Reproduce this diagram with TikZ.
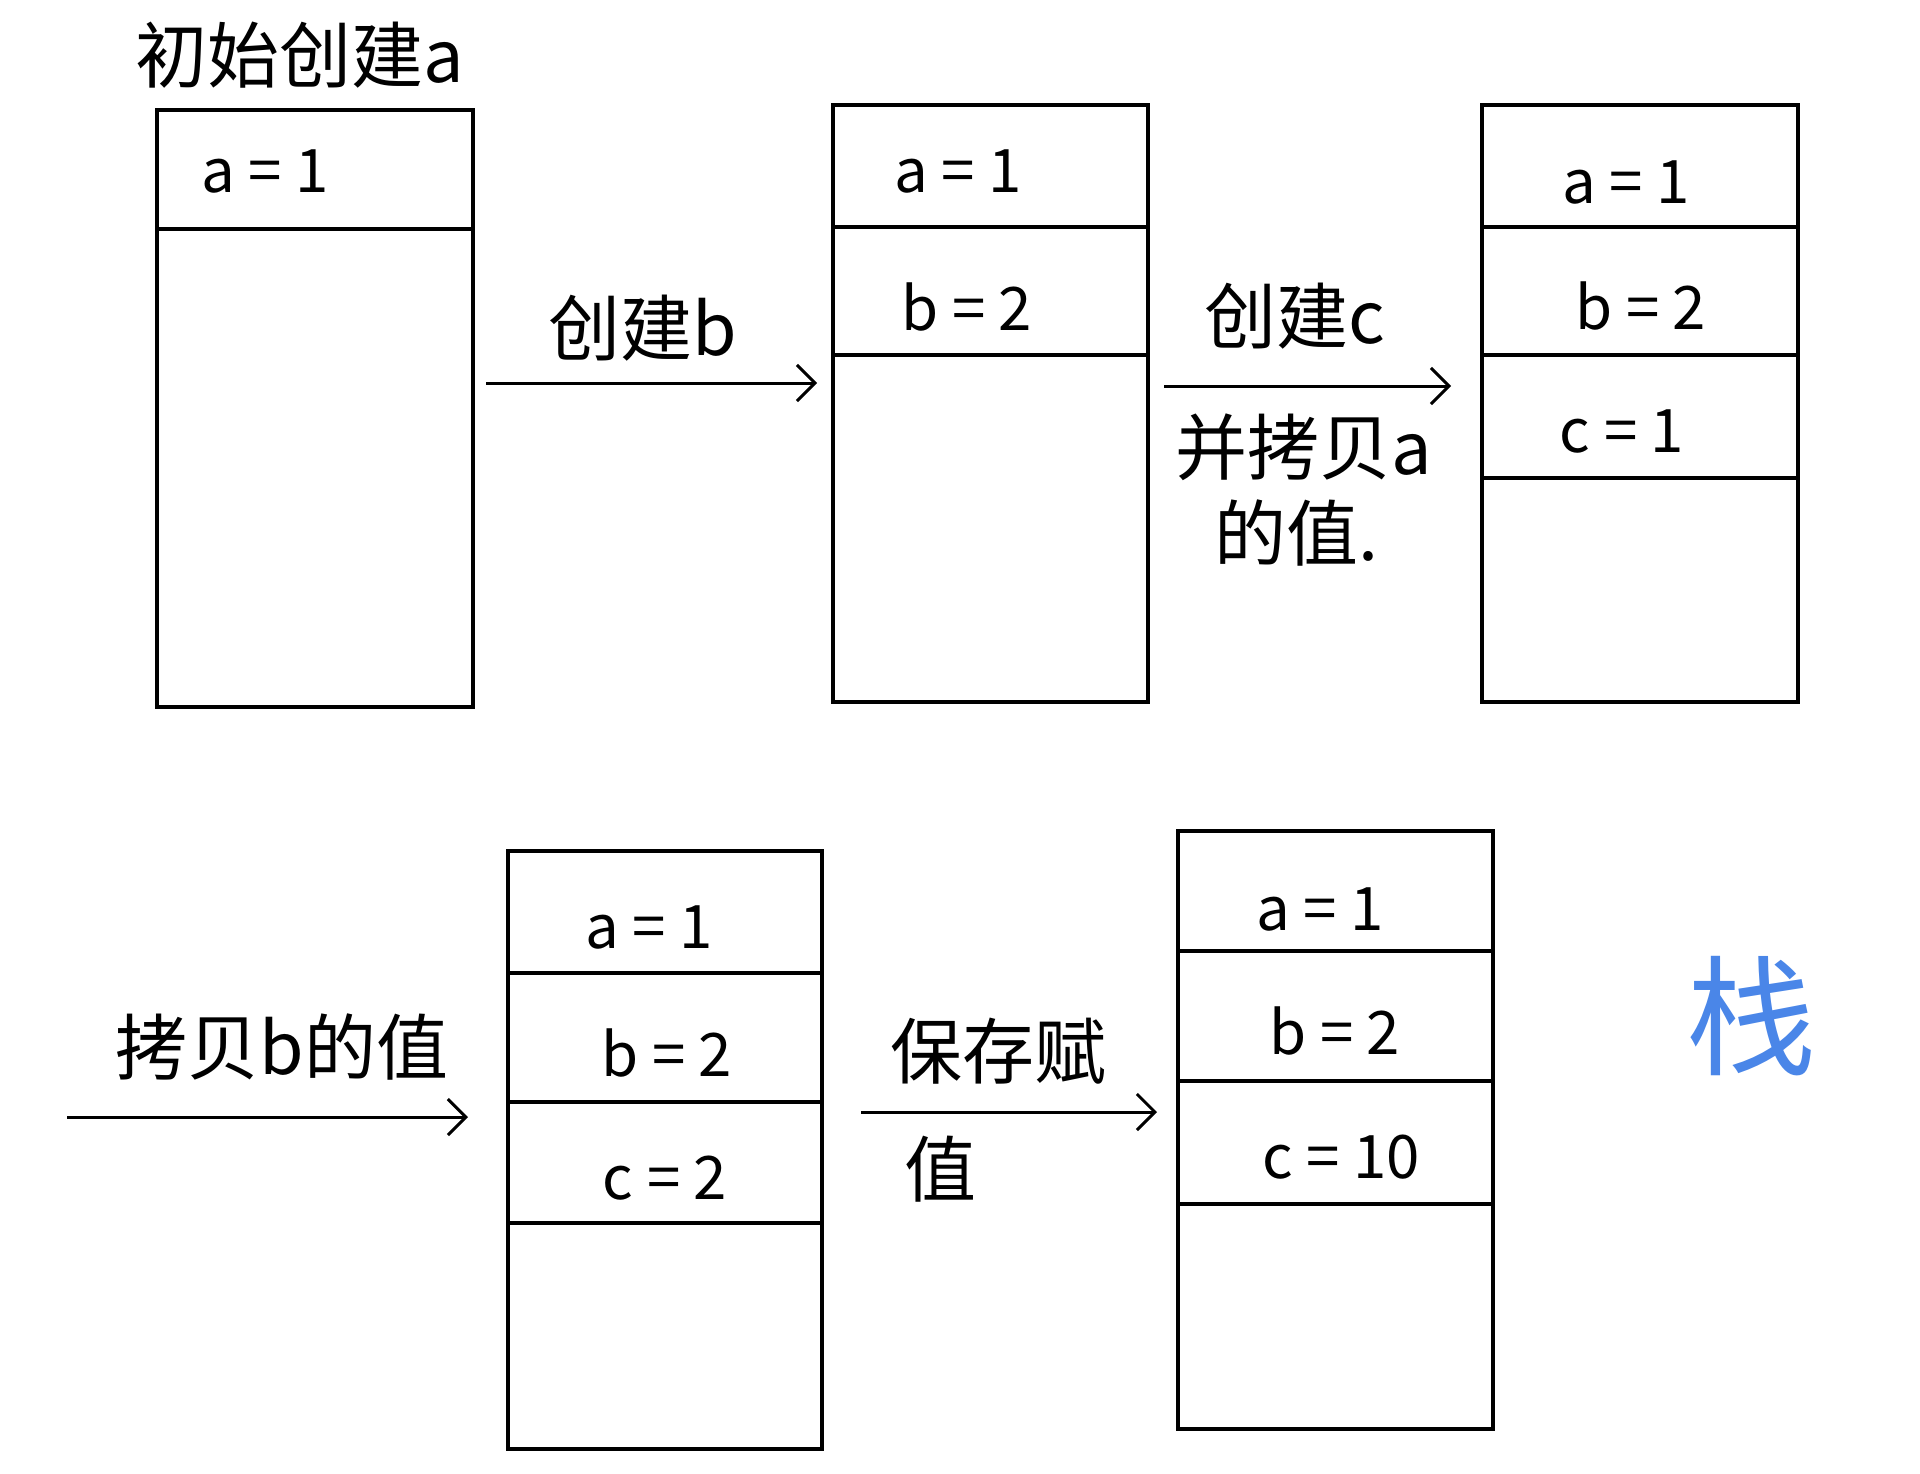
\documentclass[tikz,border=0pt]{standalone}
\usepackage{fontspec}
\setmainfont{Noto Sans CJK SC}
\usetikzlibrary{arrows.meta}
\definecolor{stackblue}{HTML}{4A86E8}
\begin{document}
\begin{tikzpicture}[x=1pt,y=-1pt,
  frame/.style={draw=black,line width=3.5pt,anchor=north west,inner sep=0pt},
  sep/.style={draw=black,line width=3.5pt},
  cell/.style={font=\fontsize{60}{66}\selectfont},
  lbl/.style={font=\fontsize{72}{80}\selectfont},
  arr/.style={draw=black,line width=3pt,-{Straight Barb[length=18pt,width=36pt,line width=3pt]}}]
\useasboundingbox (0,0) rectangle (1920,1473);
% box 1
\node[frame,minimum width=316pt,minimum height=597pt] (b1) at (155,108) {};
\draw[sep] (155,229) -- (471,229);
\node[cell] (b1a) at (265,171) {a = 1};
% box 2
\node[frame,minimum width=315pt,minimum height=597pt] (b2) at (831,103) {};
\draw[sep] (831,227) -- (1146,227);
\draw[sep] (831,355) -- (1146,355);
\node[cell] (b2a) at (958,171) {a = 1};
\node[cell] (b2b) at (967,307) {b = 2};
% box 3
\node[frame,minimum width=316pt,minimum height=597pt] (b3) at (1480,103) {};
\draw[sep] (1480,227) -- (1796,227);
\draw[sep] (1480,355) -- (1796,355);
\draw[sep] (1480,478) -- (1796,478);
\node[cell] (b3a) at (1626,182) {a = 1};
\node[cell] (b3b) at (1641,306) {b = 2};
\node[cell] (b3c) at (1622,431) {c = 1};
% box 4
\node[frame,minimum width=314pt,minimum height=598pt] (b4) at (506,849) {};
\draw[sep] (506,973) -- (820,973);
\draw[sep] (506,1102) -- (820,1102);
\draw[sep] (506,1223) -- (820,1223);
\node[cell] (b4a) at (649,927) {a = 1};
\node[cell] (b4b) at (667,1053) {b = 2};
\node[cell] (b4c) at (665,1178) {c = 2};
% box 5
\node[frame,minimum width=315pt,minimum height=598pt] (b5) at (1176,829) {};
\draw[sep] (1176,951) -- (1491,951);
\draw[sep] (1176,1081) -- (1491,1081);
\draw[sep] (1176,1204) -- (1491,1204);
\node[cell] (b5a) at (1320,909) {a = 1};
\node[cell] (b5b) at (1335,1031) {b = 2};
\node[cell] (b5c) at (1341,1157) {c = 10};
% arrows
\coordinate (a1s) at (486,383); \coordinate (a1e) at (817,383);
\coordinate (a2s) at (1164,386); \coordinate (a2e) at (1451,386);
\coordinate (a3s) at (67,1117); \coordinate (a3e) at (468,1117);
\coordinate (a4s) at (861,1112); \coordinate (a4e) at (1157,1112);
\draw[arr] (a1s) -- (a1e);
\draw[arr] (a2s) -- (a2e);
\draw[arr] (a3s) -- (a3e);
\draw[arr] (a4s) -- (a4e);
% labels
\node[lbl] (l0) at (300,55) {初始创建a};
\node[lbl] (l1) at (643,328) {创建b};
\node[lbl] (l2) at (1295,316) {创建c};
\node[lbl] (l3) at (1304,447) {并拷贝a};
\node[lbl] (l4) at (1296,533) {的值.};
\node[lbl] (l5) at (282,1047) {拷贝b的值};
\node[lbl] (l6) at (998,1051) {保存赋};
\node[lbl] (l7) at (940,1169) {值};
\node[text=stackblue,font=\fontsize{130}{140}\selectfont] (l8) at (1751,1016) {栈};
\end{tikzpicture}
\end{document}
